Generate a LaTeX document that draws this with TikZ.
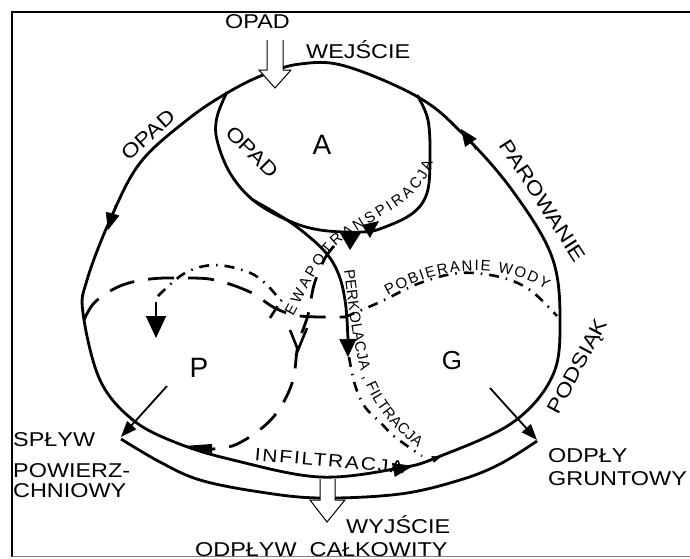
\documentclass[tikz,border=0pt]{standalone}
\usepackage{fontspec}
\setmainfont{Liberation Sans}
\newfontfamily\labf[FakeStretch=1.17]{Liberation Sans}
\usetikzlibrary{decorations.text, arrows.meta}
\newcommand\Lbig{\labf\fontsize{20}{24}\selectfont}
\newcommand\Lmid{\labf\fontsize{18}{22}\selectfont\addfontfeatures{LetterSpace=10}}
\newcommand\Lsmall{\fontsize{15}{17}\selectfont}
\newcommand\Lhuge{\fontsize{28}{30}\selectfont}
\begin{document}
\begin{tikzpicture}[x=1pt,y=-1pt,
  loopline/.style={line width=2.8pt, line join=round},
  thinarrow/.style={line width=1.8pt},
  pdash/.style={line width=2.8pt, dash pattern=on 26pt off 14pt},
  gdash/.style={line width=2.6pt, dash pattern=on 10pt off 7pt on 1.5pt off 7pt},
  lab/.style={inner sep=0pt, font=\Lbig},
  hollow/.style={line width=1pt, fill=white},
]
\useasboundingbox (0,0) rectangle (690,558);
\fill[white] (0,0) rectangle (690,558);
% frame
\draw[line width=2pt] (690,12) -- (12,12) -- (12,557);
\draw[line width=1.2pt, gray] (12,556.5) -- (690,556.5);

% outer loop
\draw[loopline] plot[smooth cycle, tension=0.6] coordinates {(263,75) (300,64) (345,66) (418,97) (462,133) (512,190) (552,257) (560,323) (552,377) (512,423) (438,457) (400,468) (320,477) (233,460) (177,443) (133,420) (100,380) (83,313) (87,280) (110,220) (140,163) (187,120) (227,93)};
% arrows on outer loop
\draw[line width=0.5pt, -{Triangle[length=17pt,width=14pt]}] (115,205) -- (108,230);
\draw[line width=0.5pt, -{Triangle[length=17pt,width=14pt]}] (476,150) -- (461,129);
\draw[line width=0.5pt, -{Triangle[length=20pt,width=14pt]}] (388,471) -- (413,466);
\draw[line width=0.5pt, -{Triangle[length=10pt,width=7pt]}] (428,461) -- (442,456);

% A loop
\draw[loopline] plot[smooth, tension=0.6] coordinates {(227,92) (217,117) (217,140) (230,173) (253,200) (287,220) (320,230) (363,232) (385,227) (413,213) (427,193) (430,160) (428,120) (417,95)};
\fill (340,233) -- (362,231) -- (350,250) -- cycle;
\fill (362,225) -- (379,221) -- (370,238) -- cycle;

% percolation
\draw[loopline] plot[smooth, tension=0.6] coordinates {(253,200) (287,220) (313,240) (330,258) (340,278) (345,300) (347,320) (348,340)};
\draw[line width=0.5pt, -{Triangle[length=18pt,width=17pt]}] (347.8,336) -- (348,357);

% P zone dashed lines
\draw[pdash] plot[smooth, tension=0.6] coordinates {(84,320) (95,302) (120,286) (150,279) (185,278) (215,280) (250,292) (275,308) (300,316) (345,317)};
\draw[gdash] plot[smooth, tension=0.6] coordinates {(158,296) (185,273) (215,265) (248,272) (266,284) (280,300)};
\draw[line width=2.8pt, dash pattern=on 22pt off 14pt] plot[smooth, tension=0.6] coordinates {(334,246) (324,260) (314,285) (308,315) (298,345) (293,380) (280,408) (262,428) (235,445) (212,449)};
\fill (183,446) -- (212,444) -- (212,453) -- cycle;
\draw[line width=2.6pt] (290,330) -- (298,350) -- (307,328);
\draw[line width=2.6pt, dash pattern=on 14pt off 6pt on 1.5pt off 6pt] (270,318) -- (284,296);

% G zone dash-dot lines
\draw[gdash] plot[smooth, tension=0.6] coordinates {(345,317) (380,302) (420,283) (460,273) (500,277) (530,290) (557,316)};
\draw[gdash] plot[smooth, tension=0.6] coordinates {(349,357) (355,385) (365,407) (380,422) (395,437) (422,456)};

% small arrow in P
\draw[thinarrow, -{Triangle[length=22pt,width=20pt]}] (156,302) -- (156,338);
% runoff arrows
\draw[thinarrow, -{Triangle[length=16pt,width=12pt]}] (167,386) -- (121,437);
\draw[thinarrow, -{Triangle[length=16pt,width=12pt]}] (490,388) -- (537,440);

% lower band
\draw[loopline] plot[smooth, tension=0.6] coordinates {(121,439) (160,462) (200,480) (260,492) (320,498) (400,494) (460,480) (500,464) (537,441)};

% input and output arrows
\draw[hollow] (267,40) -- (267,70) -- (259,70) -- (275,88) -- (291,70) -- (283,70) -- (283,40);
\draw[hollow] (320,479) -- (320,500) -- (310,500) -- (327,522) -- (345,500) -- (335,500) -- (335,479);

% labels
\node[lab, anchor=base west] (opadtop) at (225,28) {OPAD};
\node[lab, anchor=base west] (wej) at (306,58) {WEJŚCIE};
\node[lab, rotate=42] (opadl) at (148,135) {OPAD};
\node[lab, rotate=-45] (opada) at (252,152) {OPAD};
\node[inner sep=0pt, font=\Lhuge] (A) at (322,145) {A};
\node[inner sep=0pt, font=\Lhuge] (P) at (199,368) {P};
\node[inner sep=0pt, font=\fontsize{26}{28}\selectfont] (G) at (452,361) {G};
\node[lab, rotate=-57] (parow) at (543,201) {PAROWANIE};
\node[lab, rotate=62] (podsiak) at (579,367) {PODSIĄK};
\node[inner sep=0pt, font=\Lmid, rotate=-5, anchor=base] (infil) at (329,467) {INFILTRACJA};
\node[lab, anchor=base west] (s1) at (13,446) {SPŁYW};
\node[lab, anchor=base west] (s2) at (13,477) {POWIERZ-};
\node[lab, anchor=base west] (s3) at (13,497) {CHNIOWY};
\node[lab, anchor=base west] (g1) at (548,462) {ODPŁY};
\node[lab, anchor=base west] (g2) at (548,485) {GRUNTOWY};
\node[lab, anchor=base west] (wyj) at (346,533) {WYJŚCIE};
\node[lab, anchor=base west] (odp) at (195,556) {ODPŁYW\ \ CAŁKOWITY};

% curved labels
\path[decorate, decoration={text along path, text align=fit to path, text={|\Lsmall|EWAPOTRANSPIRACJA}}]
  (293,316) .. controls (305,295) and (320,260) .. (340,243) .. controls (360,228) and (380,218) .. (395,208) .. controls (415,195) and (428,180) .. (433,162);
\path[decorate, decoration={text along path, text align=fit to path, text={|\Lsmall|PERKOLACJA , FILTRACJA}}]
  (344,270) .. controls (348,300) and (352,340) .. (362,375) .. controls (375,410) and (395,430) .. (418,448);
\path[decorate, decoration={text along path, text align=fit to path, text={|\Lsmall|POBIERANIE WODY}}]
  (388,296) .. controls (420,278) and (450,270) .. (480,271) .. controls (505,272) and (530,278) .. (546,290);
\end{tikzpicture}
\end{document}
